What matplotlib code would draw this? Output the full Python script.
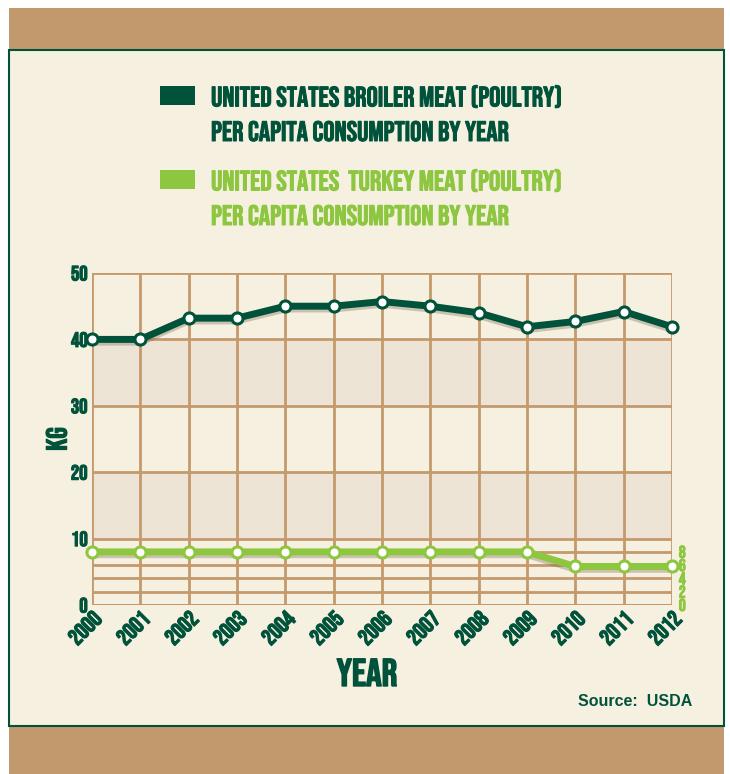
import matplotlib
matplotlib.use('Agg')
import matplotlib.pyplot as plt
import matplotlib.patheffects as pe
from matplotlib.patches import Rectangle

# Dados (kg per capita)
anos = [2000, 2001, 2002, 2003, 2004, 2005, 2006, 2007, 2008, 2009, 2010, 2011, 2012]
frango = [40.0, 40.0, 43.2, 43.2, 45.0, 45.0, 45.7, 45.0, 44.0, 41.9, 42.7, 44.2, 41.9]
peru = [8.0, 8.0, 8.0, 8.0, 8.0, 8.0, 8.0, 8.0, 8.0, 8.0, 5.8, 5.8, 5.8]
ticks_esq = [0, 10, 20, 30, 40, 50]
ticks_dir = [0, 2, 4, 6, 8]

VERDE = '#00533A'
VERDE_CLARO = '#8DC63F'
MARROM = '#C4996B'
FUNDO = '#F6F0E0'
FAIXA = '#EDE4D6'
FONTE = ['Bebas Neue', 'Oswald', 'Antonio', 'DejaVu Sans']


def negrito(cor, lw=0.8):
    # Bebas Neue so tem um peso: engrossa com contorno
    return [pe.withStroke(linewidth=lw, foreground=cor)]


fig = plt.figure(figsize=(7.3, 7.74), dpi=100)
fig.patch.set_facecolor('white')

# faixas marrons e moldura
fig.patches.append(Rectangle((9/730, 1-50/774), 715/730, 42/774, transform=fig.transFigure,
                             facecolor='#C2996C', edgecolor='none', zorder=0))
fig.patches.append(Rectangle((9/730, 0), 715/730, 48/774, transform=fig.transFigure,
                             facecolor='#C2996C', edgecolor='none', zorder=0))
fig.patches.append(Rectangle((9/730, 48/774), 715/730, 676/774, transform=fig.transFigure,
                             facecolor=FUNDO, edgecolor=VERDE, linewidth=1.5, zorder=0))

ax = fig.add_axes([92/730, 1-605/774, 580/730, 332/774])
ax.set_zorder(5)
ax.patch.set_alpha(0)

ax.axhspan(30, 40, color=FAIXA, zorder=0)
ax.axhspan(10, 20, color=FAIXA, zorder=0)

for y in ticks_esq + ticks_dir:
    ax.axhline(y, color=MARROM, linewidth=2, zorder=1)
for x in anos:
    ax.axvline(x, color=MARROM, linewidth=2, zorder=1)

sombra = [pe.SimpleLineShadow(offset=(0, -2), shadow_color='#7a6a55', alpha=0.35), pe.Normal()]
ax.plot(anos, frango, color=VERDE, linewidth=5, zorder=3, path_effects=sombra, clip_on=False)
ax.plot(anos, frango, 'o', markersize=8, markerfacecolor='white', markeredgecolor=VERDE,
        markeredgewidth=2.2, zorder=4, clip_on=False)
ax.plot(anos, peru, color=VERDE_CLARO, linewidth=5, zorder=3, path_effects=sombra, clip_on=False)
ax.plot(anos, peru, 'o', markersize=8, markerfacecolor='white', markeredgecolor=VERDE_CLARO,
        markeredgewidth=2.2, zorder=4, clip_on=False)

ax.set_xlim(2000, 2012)
ax.set_ylim(0, 50)
for s in ax.spines.values():
    s.set_visible(False)

ax.set_yticks(ticks_esq)
ax.set_yticklabels([str(t) for t in ticks_esq], family=FONTE, fontsize=15, color=VERDE,
                   path_effects=negrito(VERDE))
ax.set_xticks(anos)
ax.set_xticklabels([str(a) for a in anos], family=FONTE, fontsize=16.5,
                   color=VERDE, rotation=45, ha='right', va='top', rotation_mode='anchor',
                   path_effects=negrito(VERDE))
ax.tick_params(length=0, pad=3)

# eixo direito (peru)
for t in ticks_dir:
    ax.text(2012.14, t, str(t), family=FONTE, fontsize=12.5,
            color=VERDE_CLARO, ha='left', va='center', path_effects=negrito(VERDE_CLARO, 0.6))

ax.set_ylabel('KG', family=FONTE, fontsize=21, color=VERDE, labelpad=3,
              path_effects=negrito(VERDE))
fig.text(367/730, 1-672/774, 'YEAR', family=FONTE, fontsize=28,
         color=VERDE, ha='center', va='center', path_effects=negrito(VERDE, 1.0))
fig.text(692/730, 1-701/774, 'Source:  USDA', family=['Liberation Sans', 'DejaVu Sans'],
         fontweight='bold', fontsize=11.5, color=VERDE, ha='right', va='center')

# legenda
fig.patches.append(Rectangle((160/730, 1-105/774), 35/730, 19/774, transform=fig.transFigure,
                             facecolor=VERDE, edgecolor='none'))
fig.patches.append(Rectangle((160/730, 1-189/774), 35/730, 19/774, transform=fig.transFigure,
                             facecolor=VERDE_CLARO, edgecolor='none'))
legenda = [
    (96, 'UNITED STATES BROILER MEAT (POULTRY)', VERDE),
    (131, 'PER CAPITA CONSUMPTION BY YEAR', VERDE),
    (180, 'UNITED STATES  TURKEY MEAT (POULTRY)', VERDE_CLARO),
    (215, 'PER CAPITA CONSUMPTION BY YEAR', VERDE_CLARO),
]
for ypx, txt, cor in legenda:
    fig.text(211/730, 1-ypx/774, txt, family=FONTE, fontsize=20.3, color=cor, va='center',
             path_effects=negrito(cor, 0.7))

fig.savefig('out.png', dpi=100, facecolor=fig.get_facecolor())
